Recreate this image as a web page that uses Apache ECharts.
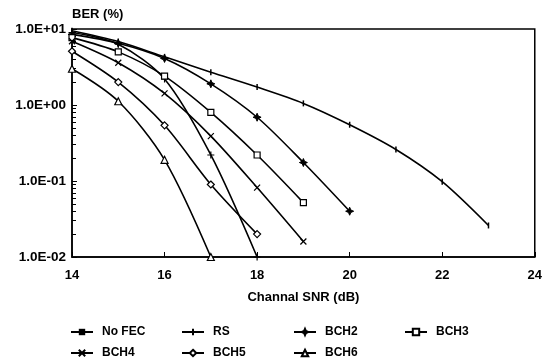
<!DOCTYPE html>
<html>
<head>
<meta charset="utf-8">
<script src="https://cdn.jsdelivr.net/npm/echarts@6/dist/echarts.min.js"></script>
<style>
  html, body { margin: 0; padding: 0; background: #fff; }
  #chart { width: 545px; height: 360px; }
</style>
</head>
<body>
<div id="chart"></div>
<script>
// channel SNR (dB) for each point, per series
const snr = [14, 15, 16, 17, 18, 19, 20, 21, 22, 23]

// BER (%)
const noFec = [9.5, 6.85, 4.3, 2.7, 1.72, 1.05, 0.55, 0.26, 0.098, 0.026]
const rs = [9.0, 6.3, 2.2, 0.22, 0.01]
const bch2 = [8.5, 6.5, 4.1, 1.9, 0.69, 0.175, 0.040]
const bch3 = [7.7, 5.0, 2.4, 0.80, 0.22, 0.052]
const bch4 = [6.9, 3.6, 1.42, 0.39, 0.082, 0.016]
const bch5 = [5.1, 2.0, 0.54, 0.09, 0.020]
const bch6 = [3.0, 1.12, 0.19, 0.01]

const seriesNames = ['No FEC', 'RS', 'BCH2', 'BCH3', 'BCH4', 'BCH5', 'BCH6']
const yTickLabels = ['1.0E-02', '1.0E-01', '1.0E+00', '1.0E+01']
const xTickLabels = ['14', '16', '18', '20', '22', '24']
const minorSteps = [2, 3, 4, 5, 6, 7, 8, 9]

const FONT = '"Liberation Sans", Arial, sans-serif'

const symbols = {
  'No FEC': { symbol: 'rect', size: [1.5, 6], fill: '#000', border: 0 },
  'RS': { symbol: 'path://M0,5L10,5M5,0L5,10', size: 7, fill: '#000', border: 1.2 },
  'BCH2': { symbol: 'path://M5,0L6.5,3.5L10,5L6.5,6.5L5,10L3.5,6.5L0,5L3.5,3.5Z', size: 8, fill: '#000', border: 1 },
  'BCH3': { symbol: 'rect', size: 6, fill: '#fff', border: 1.2 },
  'BCH4': { symbol: 'path://M0,0L10,10M10,0L0,10', size: 6, fill: '#fff', border: 1.2 },
  'BCH5': { symbol: 'diamond', size: 7, fill: '#fff', border: 1.2 },
  'BCH6': { symbol: 'triangle', size: 7, fill: '#fff', border: 1.2 }
}

// legend slots: 4 columns, 2 rows
const legendCols = [70, 181, 293, 404]
const legendRows = [326, 347]

function pairs(values) {
  return values.map((v, i) => [snr[i], v])
}

const allValues = [noFec, rs, bch2, bch3, bch4, bch5, bch6]

// log10 positions of the 2..9 minor ticks in each decade
const minorTicks = []
for (let d = -2; d < 1; d++) {
  minorSteps.forEach(m => minorTicks.push(d + Math.log10(m)))
}

const legends = seriesNames.map((name, i) => ({
  left: legendCols[i % 4],
  top: legendRows[Math.floor(i / 4)],
  padding: 0,
  itemWidth: 22,
  itemHeight: 8,
  itemGap: 0,
  textStyle: { fontFamily: FONT, fontWeight: 'bold', fontSize: 12, color: '#000', padding: [0, 0, 0, 4] },
  data: [name]
}))

const chart = echarts.init(document.getElementById('chart'))

chart.setOption({
  animation: false,
  textStyle: { fontFamily: FONT },
  grid: {
    left: 72,
    right: 8,
    top: 29,
    bottom: 103,
    show: true,
    borderColor: '#000',
    borderWidth: 1.5
  },
  legend: legends,
  xAxis: {
    type: 'value',
    min: 14,
    max: 24,
    interval: 2,
    name: 'Channal SNR (dB)',
    nameLocation: 'middle',
    nameGap: 34,
    nameTextStyle: { fontFamily: FONT, fontWeight: 'bold', fontSize: 13, color: '#000' },
    axisLine: { onZero: false, lineStyle: { color: '#000', width: 1.5 } },
    axisTick: { inside: true, length: 5, lineStyle: { color: '#000' } },
    axisLabel: {
      margin: 12,
      fontFamily: FONT, fontWeight: 'bold', fontSize: 13, color: '#000',
      formatter: v => xTickLabels[(v - 14) / 2]
    },
    splitLine: { show: false }
  },
  yAxis: [{
    type: 'log',
    min: 0.01,
    max: 10,
    logBase: 10,
    name: 'BER (%)',
    nameLocation: 'end',
    nameGap: 8,
    nameTextStyle: { fontFamily: FONT, fontWeight: 'bold', fontSize: 13, color: '#000', align: 'left' },
    axisLine: { show: true, lineStyle: { color: '#000', width: 1.5 } },
    axisTick: { show: true, inside: true, length: 5, lineStyle: { color: '#000' } },
    minorTick: { show: false },
    axisLabel: {
      margin: 6,
      fontFamily: FONT, fontWeight: 'bold', fontSize: 13.5, color: '#000',
      formatter: v => yTickLabels[Math.round(Math.log10(v)) + 2]
    },
    splitLine: { show: false }
  }, {
    // carries the 2..9 minor ticks of the log scale
    type: 'value',
    min: -2,
    max: 1,
    position: 'left',
    axisLine: { show: false, onZero: false },
    axisLabel: { show: false },
    axisTick: { show: true, inside: true, length: 4, customValues: minorTicks, lineStyle: { color: '#000' } },
    splitLine: { show: false }
  }],
  series: seriesNames.map((name, k) => ({
    name: name,
    type: 'line',
    smooth: 0.3,
    data: pairs(allValues[k]),
    symbol: symbols[name].symbol,
    symbolSize: symbols[name].size,
    showAllSymbol: true,
    lineStyle: { color: '#000', width: 1.6 },
    itemStyle: { color: symbols[name].fill, borderColor: '#000', borderWidth: symbols[name].border }
  }))
})
</script>
</body>
</html>
